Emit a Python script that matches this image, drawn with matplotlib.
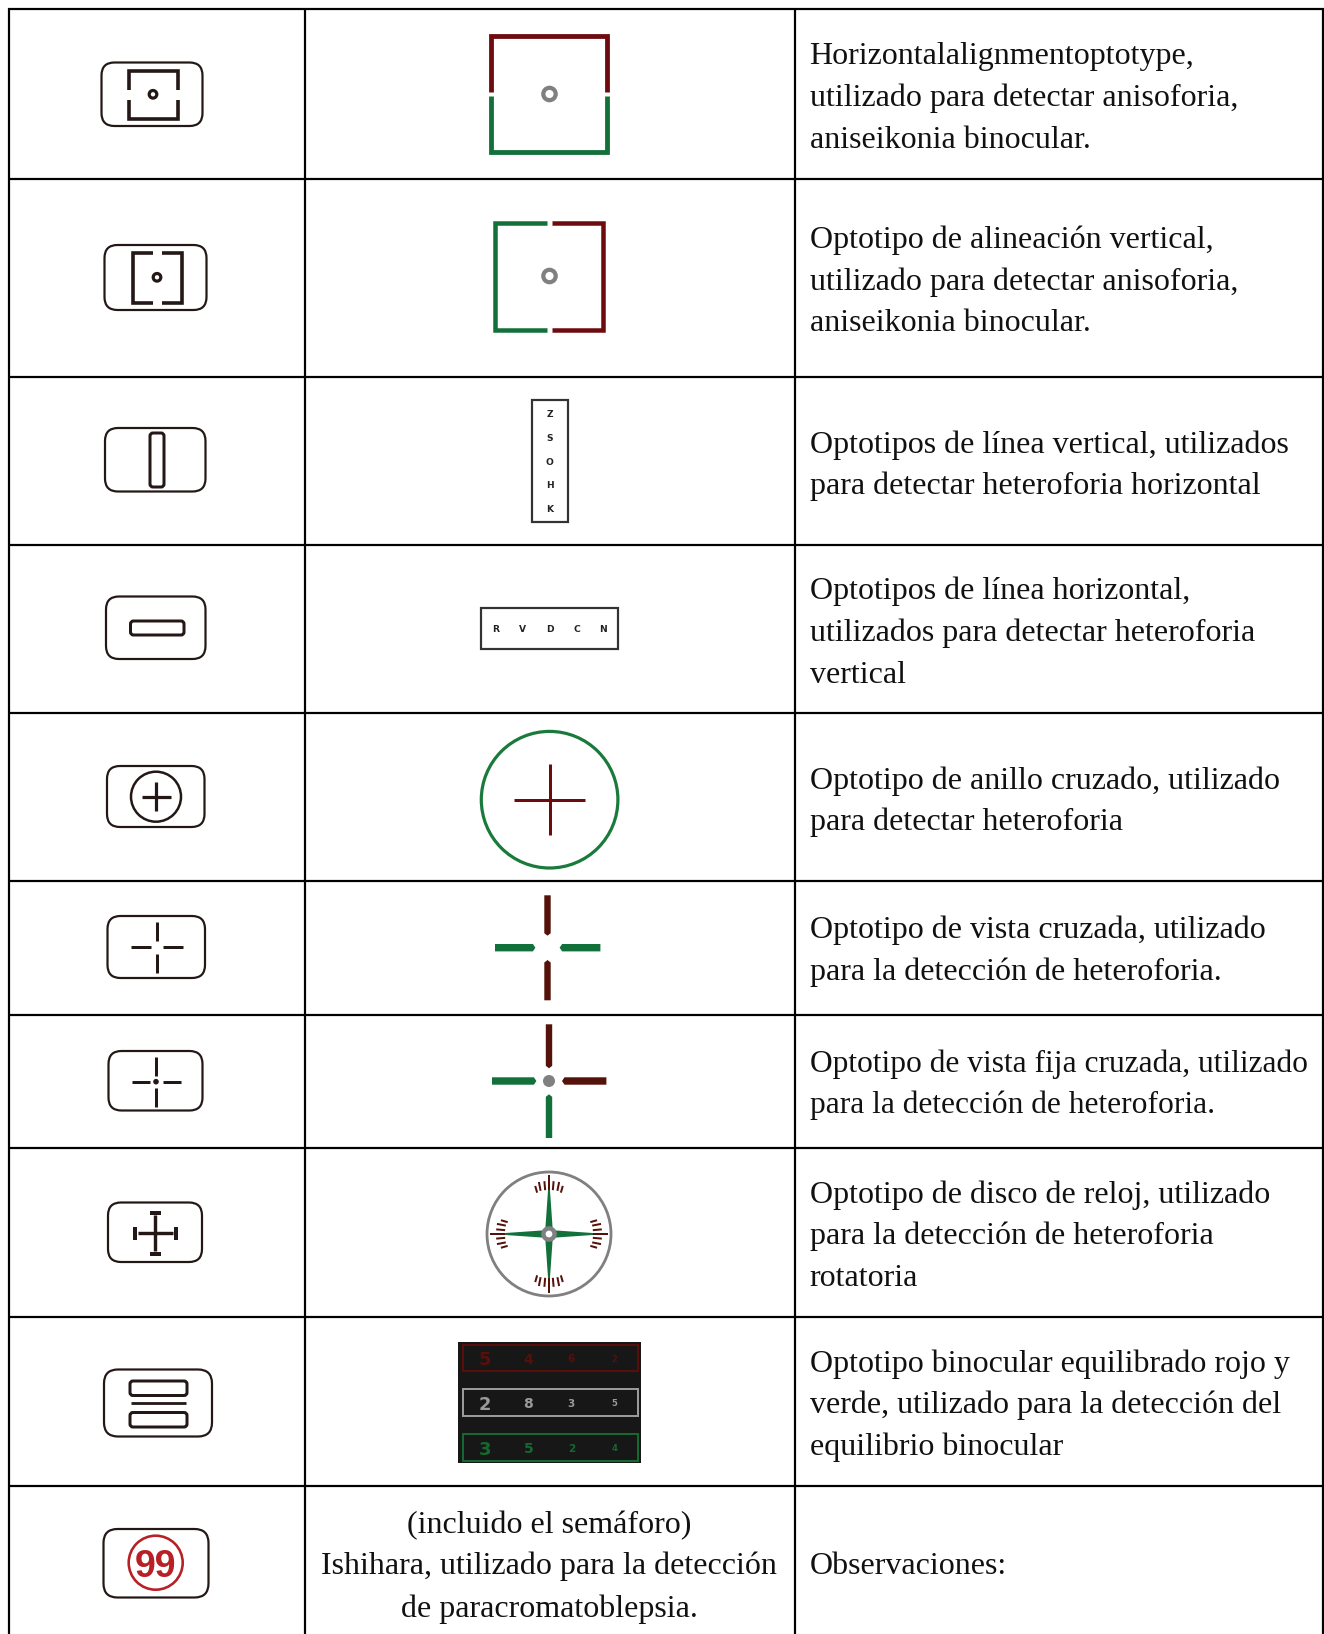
import matplotlib
matplotlib.use('Agg')
import matplotlib.pyplot as plt
import matplotlib.patches as patches
import numpy as np

plt.rcParams['font.family'] = ['Liberation Serif', 'DejaVu Serif']

# texto de la tabla
desc_lines = [
    ['Horizontalalignmentoptotype,', 'utilizado para detectar anisoforia,', 'aniseikonia binocular.'],
    ['Optotipo de alineación vertical,', 'utilizado para detectar anisoforia,', 'aniseikonia binocular.'],
    ['Optotipos de línea vertical, utilizados', 'para detectar heteroforia horizontal'],
    ['Optotipos de línea horizontal,', 'utilizados para detectar heteroforia', 'vertical'],
    ['Optotipo de anillo cruzado, utilizado', 'para detectar heteroforia'],
    ['Optotipo de vista cruzada, utilizado', 'para la detección de heteroforia.'],
    ['Optotipo de vista fija cruzada, utilizado', 'para la detección de heteroforia.'],
    ['Optotipo de disco de reloj, utilizado', 'para la detección de heteroforia', 'rotatoria'],
    ['Optotipo binocular equilibrado rojo y', 'verde, utilizado para la detección del', 'equilibrio binocular'],
    ['Observaciones:'],
]
desc_base = [
    [64, 105.5, 147.5], [248, 289.5, 330.5], [453, 493.5], [599, 640.5, 682.5], [788.5, 829.5],
    [938, 979.5], [1072, 1113.5], [1203.5, 1244, 1285.5], [1372, 1413.5, 1455.5], [1574],
]
ishihara_lines = ['(incluido el semáforo)', 'Ishihara, utilizado para la detección', 'de paracromatoblepsia.']
ishihara_base = [1533.5, 1574, 1616.5]
desc_size = [23.0] * 6 + [22.7] + [23.0] * 3

col_x = [8.5, 304.5, 794.5, 1322.5]
row_y = [9, 179, 377, 545, 712.5, 880.5, 1015, 1148, 1317, 1486]

vert_letters = ['Z', 'S', 'O', 'H', 'K']
horiz_letters = ['R', 'V', 'D', 'C', 'N']
panel_digits = [['5', '4', '6', '2'], ['2', '8', '3', '5'], ['3', '5', '2', '4']]
digit_sizes = [13, 10, 7.5, 6]
tick_angles = [-16, -11, -5, 0, 5, 11, 16]
tick_inner = [43, 44, 44, 44, 44, 44, 43]
tick_outer = [50, 53, 53, 59, 53, 53, 50]

DARK = '#231815'
RED = '#6e0b0f'
BROWN = '#55120a'
GREEN = '#12703a'
GRAY = '#808080'
SANS = ['DejaVu Sans']

fig = plt.figure(figsize=(13.24, 16.34), dpi=100)
ax = fig.add_axes([0, 0, 1, 1])
ax.set_xlim(0, 1324)
ax.set_ylim(1634, 0)
ax.axis('off')


def lw(px):
    return px * 0.72


def seg(x0, y0, x1, y1, color=DARK, w=2.5):
    ax.plot([x0, x1], [y0, y1], color=color, lw=lw(w), solid_capstyle='butt')


def poly(pts, color=DARK, w=2.5):
    ax.plot([p[0] for p in pts], [p[1] for p in pts], color=color, lw=lw(w),
            solid_capstyle='butt', solid_joinstyle='miter')


def rbox(x0, y0, x1, y1, r=13, w=2.2, color=DARK):
    ax.add_patch(patches.FancyBboxPatch((x0 + r, y0 + r), x1 - x0 - 2 * r, y1 - y0 - 2 * r,
                                        boxstyle='round,pad=%f,rounding_size=%f' % (r, r),
                                        fill=False, edgecolor=color, lw=lw(w)))


def ring(x, y, r, w=3, color=DARK, fc='none', z=3):
    ax.add_patch(patches.Circle((x, y), r, facecolor=fc, edgecolor=color, lw=lw(w), zorder=z))


def bar(x0, y0, x1, y1, color):
    # barra con la punta achaflanada hacia el centro
    c = 2.5
    if abs(x1 - x0) > abs(y1 - y0):
        s = 1 if x1 > x0 else -1
        ym = (y0 + y1) / 2
        pts = [(x0, y0), (x1 - s * c, y0), (x1, ym), (x1 - s * c, y1), (x0, y1)]
    else:
        s = 1 if y1 > y0 else -1
        xm = (x0 + x1) / 2
        pts = [(x0, y0), (x1, y0), (x1, y1 - s * c), (xm, y1), (x0, y1 - s * c)]
    ax.add_patch(patches.Polygon(pts, closed=True, facecolor=color, edgecolor='none'))


# rejilla de la tabla
for x in col_x:
    ax.plot([x, x], [8, 1634], color='black', lw=lw(2.2), solid_capstyle='butt')
for y in row_y:
    ax.plot([col_x[0] - 1, col_x[-1] + 1], [y, y], color='black', lw=lw(2.2), solid_capstyle='butt')

# textos
for lines, bases, fs in zip(desc_lines, desc_base, desc_size):
    for t, b in zip(lines, bases):
        ax.text(809.5, b, t, fontsize=fs, ha='left', va='baseline', color='#111111')
for t, b in zip(ishihara_lines, ishihara_base):
    ax.text(549, b, t, fontsize=23.0, ha='center', va='baseline', color='#111111')

# fila 1
rbox(101.5, 62.5, 202.5, 126)
poly([(129, 89.5), (129, 70.5), (178, 70.5), (178, 89.5)], w=3.6)
poly([(129, 99.5), (129, 119), (178, 119), (178, 99.5)], w=3.6)
ring(153, 94.3, 3.8, w=3.2)
poly([(491.3, 91.5), (491.3, 35.5), (607.3, 35.5), (607.3, 91.5)], RED, 4.8)
poly([(491.3, 96), (491.3, 152), (607.3, 152), (607.3, 96)], GREEN, 4.8)
ring(549.5, 94, 6.2, w=4.2, color=GRAY)

# fila 2
rbox(104.5, 245, 206.5, 310)
poly([(152.5, 253), (132.5, 253), (132.5, 302.5), (152.5, 302.5)], w=3.6)
poly([(162, 253), (182, 253), (182, 302.5), (162, 302.5)], w=3.6)
ring(157, 277.3, 3.8, w=3.2)
poly([(547, 222.5), (495, 222.5), (495, 330), (547, 330)], GREEN, 4.5)
poly([(551.5, 222.5), (603, 222.5), (603, 330), (551.5, 330)], RED, 4.5)
ring(549.5, 276, 6.2, w=4.2, color=GRAY)

# fila 3
rbox(105, 428, 205.5, 491.5)
rbox(150, 433, 164, 487, r=3, w=3)
ax.add_patch(patches.Rectangle((532, 400), 36, 122, fill=False, edgecolor='#333333', lw=lw(2.2)))
for ch, y in zip(vert_letters, [413.3, 437, 461, 484.7, 508.3]):
    ax.text(549.5, y, ch, fontsize=6.6, family=SANS, weight='bold', ha='center', va='center_baseline', color='#222222')

# fila 4
rbox(106, 596.5, 205.5, 659)
rbox(130.5, 621, 184, 635, r=3, w=3)
ax.add_patch(patches.Rectangle((481, 607.5), 137, 41.5, fill=False, edgecolor='#333333', lw=lw(2.2)))
for ch, x in zip(horiz_letters, [495.7, 522.9, 549.6, 576.4, 603.2]):
    ax.text(x, 628.3, ch, fontsize=6.6, family=SANS, weight='bold', ha='center', va='center_baseline', color='#222222')

# fila 5
rbox(107, 766, 204.5, 827)
ring(156, 796.7, 25, w=2.5)
seg(141.5, 796.7, 171, 796.7, w=3.2)
seg(156, 782.3, 156, 811.3, w=3.2)
ring(549.6, 799.7, 68.3, w=3.2, color='#1a7a3c')
seg(514, 799.7, 585, 799.7, RED, 3)
seg(549.6, 764.3, 549.6, 835.3, RED, 3)

# fila 6
rbox(107.5, 916, 205, 978)
seg(156.8, 922.3, 156.8, 941, w=3)
seg(156.8, 954, 156.8, 972.7, w=3)
seg(131.4, 947.3, 150.7, 947.3, w=3)
seg(163.2, 947.3, 182.5, 947.3, w=3)
bar(544.3, 895.3, 550.7, 935.7, BROWN)
bar(544.3, 1000.3, 550.7, 960, BROWN)
bar(495, 944, 535.4, 951.4, GREEN)
bar(600.4, 944, 559.6, 951.4, GREEN)

# fila 7
rbox(108.5, 1051, 202.5, 1110.5)
seg(156, 1057, 156, 1075.7, w=3)
seg(156, 1088, 156, 1106.7, w=3)
seg(131.8, 1081.7, 150.4, 1081.7, w=3)
seg(162.5, 1081.7, 181, 1081.7, w=3)
ax.add_patch(patches.Circle((156, 1081.7), 2.8, facecolor=DARK, edgecolor='none'))
bar(545.8, 1024.3, 552.2, 1068.3, BROWN)
bar(545.8, 1138, 552.2, 1094.3, GREEN)
bar(492, 1077.3, 536.4, 1084.7, GREEN)
bar(606.4, 1077.3, 562, 1084.7, BROWN)
ax.add_patch(patches.Circle((549, 1081), 6, facecolor=GRAY, edgecolor='none'))

# fila 8
rbox(108, 1202.5, 202, 1262)
seg(155.4, 1215, 155.4, 1251, w=3.4)
seg(138, 1233.3, 173, 1233.3, w=3.4)
seg(149.6, 1212.5, 161.4, 1212.5, w=4)
seg(149.6, 1254, 161.4, 1254, w=4)
seg(134.6, 1227, 134.6, 1239.5, w=4)
seg(176, 1227, 176, 1239.5, w=4)
cx, cy = 549, 1234
ring(cx, cy, 62, w=2.8, color=GRAY)
for d in range(4):
    a = d * np.pi / 2
    u = np.array([np.cos(a), np.sin(a)])
    n = np.array([-u[1], u[0]])
    c = np.array([cx, cy])
    # brazo verde: fino en la punta, ensanchado junto al centro
    ax.add_patch(patches.Polygon([c + n * 3.6 + u * 6, c + u * 45 + n * 0.9,
                                  c + u * 45 - n * 0.9, c - n * 3.6 + u * 6],
                                 closed=True, facecolor=GREEN, edgecolor='none'))
    for ang, r0, r1 in zip(tick_angles, tick_inner, tick_outer):
        t = a + np.deg2rad(ang)
        seg(cx + r0 * np.cos(t), cy + r0 * np.sin(t), cx + r1 * np.cos(t), cy + r1 * np.sin(t), BROWN, 2)
ring(cx, cy, 5.6, w=4.4, color=GRAY, fc='white', z=4)

# fila 9
rbox(104, 1369.5, 212, 1436.5, r=14)
rbox(130, 1381, 187, 1395.5, r=3, w=3)
rbox(130, 1412.5, 187, 1427, r=3, w=3)
seg(131, 1403.3, 186, 1403.3, w=2.8)
ax.add_patch(patches.Rectangle((458, 1342), 183, 120.7, facecolor='#171717', edgecolor='none'))
panel_rows = [(1345, 1371), (1389, 1416), (1434, 1460.5)]
panel_cols = ['#5a0e0a', '#9a9a9a', '#13692f']
for (y0, y1), col, digits in zip(panel_rows, panel_cols, panel_digits):
    ax.add_patch(patches.Rectangle((462.5, y0), 175.5, y1 - y0, fill=False, edgecolor=col, lw=lw(2)))
    for ch, x, fs in zip(digits, [485, 528.3, 571.3, 614.3], digit_sizes):
        ax.text(x, (y0 + y1) / 2 + 0.3, ch, fontsize=fs, family=SANS, weight='bold', color=col,
                ha='center', va='center_baseline')

# fila 10
rbox(103.5, 1529, 208.5, 1597.5, r=14)
ring(155.7, 1562.7, 27, w=2.6, color='#b72025')
ax.text(155.7, 1563, '99', fontsize=27, family=['Liberation Sans'], weight='bold', color='#b72025', ha='center', va='center_baseline')

fig.savefig('out.png', dpi=100, facecolor='white')
